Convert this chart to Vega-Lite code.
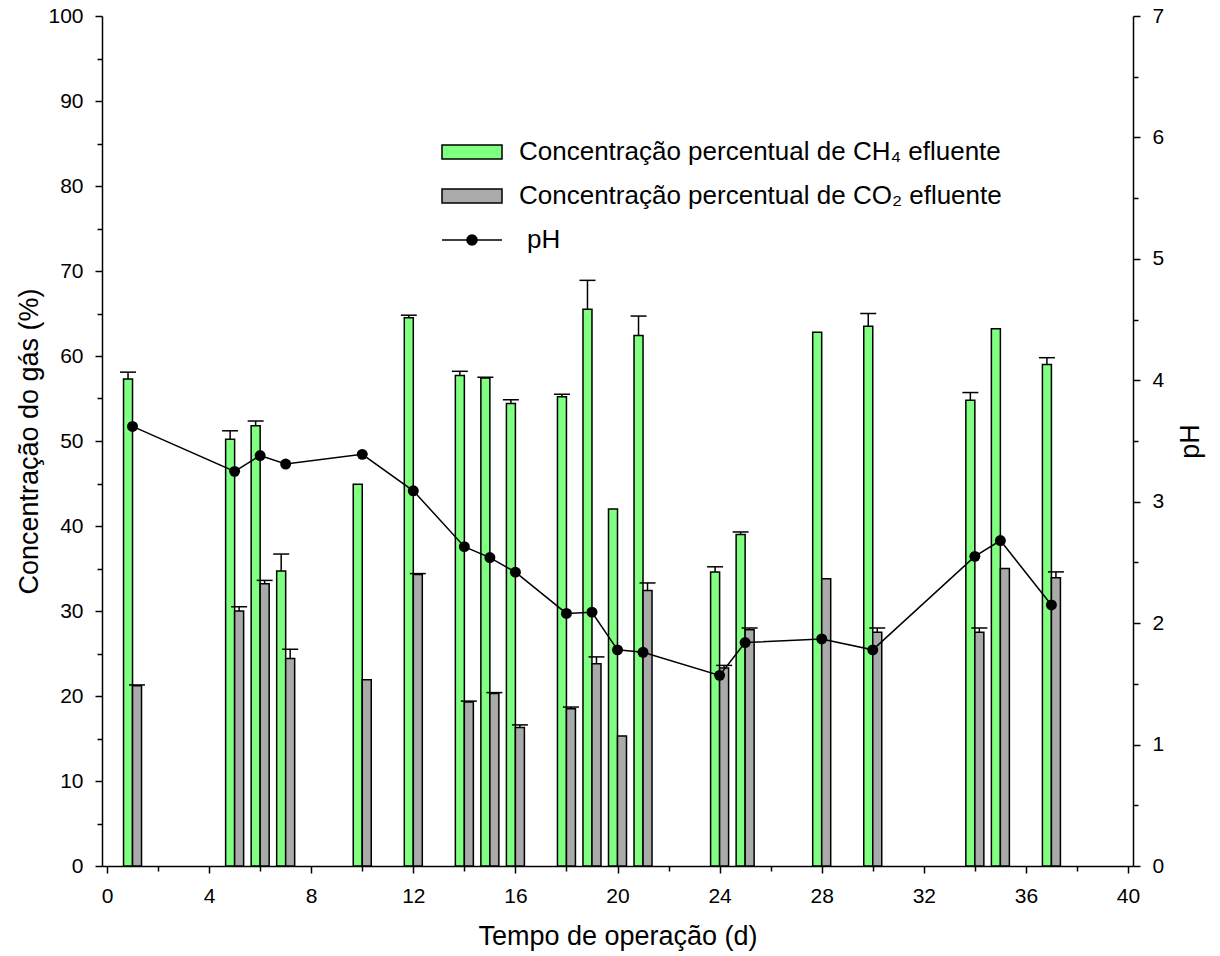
{
  "$schema": "https://vega.github.io/schema/vega-lite/v6.json",
  "width": 1031,
  "height": 850,
  "autosize": "none",
  "padding": {"left": 102, "top": 16, "right": 87, "bottom": 90},
  "background": "white",
  "datasets": {
    "gas": [
      {"day": 1, "series": "CH4", "value": 57.3, "upper": 58.1},
      {"day": 5, "series": "CH4", "value": 50.2, "upper": 51.2},
      {"day": 6, "series": "CH4", "value": 51.8, "upper": 52.35},
      {"day": 7, "series": "CH4", "value": 34.7, "upper": 36.7},
      {"day": 10, "series": "CH4", "value": 44.9, "upper": null},
      {"day": 12, "series": "CH4", "value": 64.5, "upper": 64.8},
      {"day": 14, "series": "CH4", "value": 57.7, "upper": 58.2},
      {"day": 15, "series": "CH4", "value": 57.4, "upper": 57.5},
      {"day": 16, "series": "CH4", "value": 54.4, "upper": 54.85},
      {"day": 18, "series": "CH4", "value": 55.2, "upper": 55.5},
      {"day": 19, "series": "CH4", "value": 65.5, "upper": 68.9},
      {"day": 20, "series": "CH4", "value": 42.0, "upper": null},
      {"day": 21, "series": "CH4", "value": 62.4, "upper": 64.7},
      {"day": 24, "series": "CH4", "value": 34.6, "upper": 35.2},
      {"day": 25, "series": "CH4", "value": 39.0, "upper": 39.3},
      {"day": 28, "series": "CH4", "value": 62.8, "upper": null},
      {"day": 30, "series": "CH4", "value": 63.5, "upper": 65.0},
      {"day": 34, "series": "CH4", "value": 54.8, "upper": 55.7},
      {"day": 35, "series": "CH4", "value": 63.2, "upper": null},
      {"day": 37, "series": "CH4", "value": 59.0, "upper": 59.8},
      {"day": 1, "series": "CO2", "value": 21.2, "upper": 21.3},
      {"day": 5, "series": "CO2", "value": 30.0, "upper": 30.5},
      {"day": 6, "series": "CO2", "value": 33.2, "upper": 33.6},
      {"day": 7, "series": "CO2", "value": 24.4, "upper": 25.5},
      {"day": 10, "series": "CO2", "value": 21.9, "upper": null},
      {"day": 12, "series": "CO2", "value": 34.3, "upper": 34.4},
      {"day": 14, "series": "CO2", "value": 19.3, "upper": 19.4},
      {"day": 15, "series": "CO2", "value": 20.3, "upper": 20.4},
      {"day": 16, "series": "CO2", "value": 16.3, "upper": 16.6},
      {"day": 18, "series": "CO2", "value": 18.5, "upper": 18.7},
      {"day": 19, "series": "CO2", "value": 23.8, "upper": 24.6},
      {"day": 20, "series": "CO2", "value": 15.3, "upper": null},
      {"day": 21, "series": "CO2", "value": 32.4, "upper": 33.3},
      {"day": 24, "series": "CO2", "value": 23.3, "upper": 23.6},
      {"day": 25, "series": "CO2", "value": 27.8, "upper": 28.0},
      {"day": 28, "series": "CO2", "value": 33.8, "upper": null},
      {"day": 30, "series": "CO2", "value": 27.5, "upper": 28.0},
      {"day": 34, "series": "CO2", "value": 27.5, "upper": 28.0},
      {"day": 35, "series": "CO2", "value": 35.0, "upper": null},
      {"day": 37, "series": "CO2", "value": 33.9, "upper": 34.6}
    ],
    "ph": [
      {"day": 1, "ph": 3.62},
      {"day": 5, "ph": 3.25},
      {"day": 6, "ph": 3.38},
      {"day": 7, "ph": 3.31},
      {"day": 10, "ph": 3.39},
      {"day": 12, "ph": 3.09},
      {"day": 14, "ph": 2.63},
      {"day": 15, "ph": 2.54},
      {"day": 16, "ph": 2.42},
      {"day": 18, "ph": 2.08},
      {"day": 19, "ph": 2.09},
      {"day": 20, "ph": 1.78},
      {"day": 21, "ph": 1.76},
      {"day": 24, "ph": 1.57},
      {"day": 25, "ph": 1.84},
      {"day": 28, "ph": 1.87},
      {"day": 30, "ph": 1.78},
      {"day": 34, "ph": 2.55},
      {"day": 35, "ph": 2.68},
      {"day": 37, "ph": 2.15}
    ]
  },
  "encoding": {
    "x": {
      "field": "day",
      "type": "quantitative",
      "scale": {"domain": [0, 40], "nice": false, "zero": false},
      "axis": {
        "title": "Tempo de operação (d)",
        "values": [0, 2, 4, 6, 8, 10, 12, 14, 16, 18, 20, 22, 24, 26, 28, 30, 32, 34, 36, 38, 40],
        "labelExpr": "datum.value % 4 === 0 ? datum.label : ''",
        "tickSize": {"condition": {"test": "datum.value % 4 === 0", "value": 7}, "value": 5},
        "labelPadding": 12,
        "titlePadding": 17,
        "labelOverlap": false,
        "labelFlush": false
      }
    }
  },
  "layer": [
    {
      "data": {"name": "gas"},
      "layer": [
        {
          "transform": [{"filter": "datum.series === 'CH4'"}],
          "mark": {"type": "bar", "width": 9, "xOffset": -4.5, "stroke": "black", "strokeWidth": 1.5, "opacity": 1},
          "encoding": {
            "y": {
              "field": "value",
              "type": "quantitative",
              "scale": {"domain": [0, 100], "nice": false},
              "axis": {
                "title": "Concentração do gás (%)",
                "orient": "left",
                "values": [0, 5, 10, 15, 20, 25, 30, 35, 40, 45, 50, 55, 60, 65, 70, 75, 80, 85, 90, 95, 100],
                "labelExpr": "datum.value % 10 === 0 ? datum.label : ''",
                "tickSize": {"condition": {"test": "datum.value % 10 === 0", "value": 7}, "value": 5},
                "labelPadding": 12,
                "titlePadding": 4,
                "labelOverlap": false,
                "labelFlush": false
              }
            },
            "color": {
              "field": "series",
              "type": "nominal",
              "scale": {"domain": ["CH4", "CO2"], "range": ["#80ff80", "#aaaaaa"]},
              "legend": {
                "title": null,
                "orient": "none",
                "legendX": 337,
                "legendY": 123,
                "padding": 0,
                "labelFontSize": 26,
                "labelFont": "Liberation Sans",
                "labelColor": "black",
                "labelLimit": 0,
                "labelOffset": 54,
                "rowPadding": 18,
                "symbolSize": 400,
                "symbolType": "M-1,-0.7H5V0.7H-1Z",
                "symbolStrokeColor": "black",
                "symbolStrokeWidth": 1.5,
                "symbolOpacity": 1,
                "labelExpr": "datum.value === 'CH4' ? 'Concentração percentual de CH₄ efluente' : 'Concentração percentual de CO₂ efluente'"
              }
            }
          }
        },
        {
          "transform": [{"filter": "datum.series === 'CO2'"}],
          "mark": {"type": "bar", "width": 9, "xOffset": 4.5, "fill": "#aaaaaa", "stroke": "black", "strokeWidth": 1.5, "opacity": 1},
          "encoding": {
            "y": {"field": "value", "type": "quantitative"}
          }
        },
        {
          "transform": [{"filter": "datum.series === 'CH4' && datum.upper != null"}],
          "mark": {"type": "rule", "xOffset": -4.5, "color": "black", "strokeWidth": 1.5},
          "encoding": {
            "y": {"field": "value", "type": "quantitative"},
            "y2": {"field": "upper"}
          }
        },
        {
          "transform": [{"filter": "datum.series === 'CO2' && datum.upper != null"}],
          "mark": {"type": "rule", "xOffset": 4.5, "color": "black", "strokeWidth": 1.5},
          "encoding": {
            "y": {"field": "value", "type": "quantitative"},
            "y2": {"field": "upper"}
          }
        },
        {
          "transform": [{"filter": "datum.series === 'CH4' && datum.upper != null"}],
          "mark": {"type": "tick", "orient": "horizontal", "size": 16, "thickness": 1.5, "xOffset": -4.5, "color": "black", "opacity": 1},
          "encoding": {
            "y": {"field": "upper", "type": "quantitative"}
          }
        },
        {
          "transform": [{"filter": "datum.series === 'CO2' && datum.upper != null"}],
          "mark": {"type": "tick", "orient": "horizontal", "size": 16, "thickness": 1.5, "xOffset": 4.5, "color": "black", "opacity": 1},
          "encoding": {
            "y": {"field": "upper", "type": "quantitative"}
          }
        }
      ]
    },
    {
      "data": {"name": "ph"},
      "layer": [
        {
          "mark": {"type": "line", "color": "black", "strokeWidth": 1.5},
          "encoding": {
            "y": {
              "field": "ph",
              "type": "quantitative",
              "scale": {"domain": [0, 7], "nice": false},
              "axis": {
                "title": "pH",
                "orient": "right",
                "values": [0, 0.5, 1, 1.5, 2, 2.5, 3, 3.5, 4, 4.5, 5, 5.5, 6, 6.5, 7],
                "labelExpr": "datum.value % 1 === 0 ? format(datum.value, 'd') : ''",
                "tickSize": {"condition": {"test": "datum.value % 1 === 0", "value": 7}, "value": 5},
                "labelPadding": 12,
                "titlePadding": 14,
                "titleAngle": -90,
                "titleBaseline": "top",
                "labelOverlap": false,
                "labelFlush": false
              }
            },
            "opacity": {
              "datum": "pH",
              "type": "nominal",
              "scale": {"domain": ["pH"], "range": [1, 1]},
              "legend": {
                "title": null,
                "orient": "none",
                "legendX": 337,
                "legendY": 211,
                "padding": 0,
                "labelFontSize": 26,
                "labelFont": "Liberation Sans",
                "labelColor": "black",
                "labelLimit": 0,
                "labelOffset": 62,
                "symbolSize": 400,
                "symbolType": "M-1,0H5M2.5,0A0.5,0.5 0 1 1 1.5,0A0.5,0.5 0 1 1 2.5,0M2.38,0A0.38,0.38 0 1 1 1.62,0A0.38,0.38 0 1 1 2.38,0M2.26,0A0.26,0.26 0 1 1 1.74,0A0.26,0.26 0 1 1 2.26,0M2.14,0A0.14,0.14 0 1 1 1.86,0A0.14,0.14 0 1 1 2.14,0",
                "symbolFillColor": "black",
                "symbolStrokeColor": "black",
                "symbolStrokeWidth": 1.5
              }
            }
          }
        },
        {
          "mark": {"type": "point", "filled": true, "color": "black", "size": 120, "opacity": 1},
          "encoding": {
            "y": {"field": "ph", "type": "quantitative"}
          }
        }
      ]
    }
  ],
  "resolve": {"scale": {"y": "independent"}},
  "config": {
    "font": "Liberation Sans",
    "view": {"stroke": null},
    "axis": {
      "grid": false,
      "domainColor": "black",
      "domainWidth": 1.5,
      "tickColor": "black",
      "tickWidth": 1.5,
      "labelColor": "black",
      "labelFont": "Liberation Sans",
      "labelFontSize": 21,
      "titleFont": "Liberation Sans",
      "titleFontSize": 27,
      "titleFontWeight": "normal",
      "titleColor": "black"
    }
  }
}
